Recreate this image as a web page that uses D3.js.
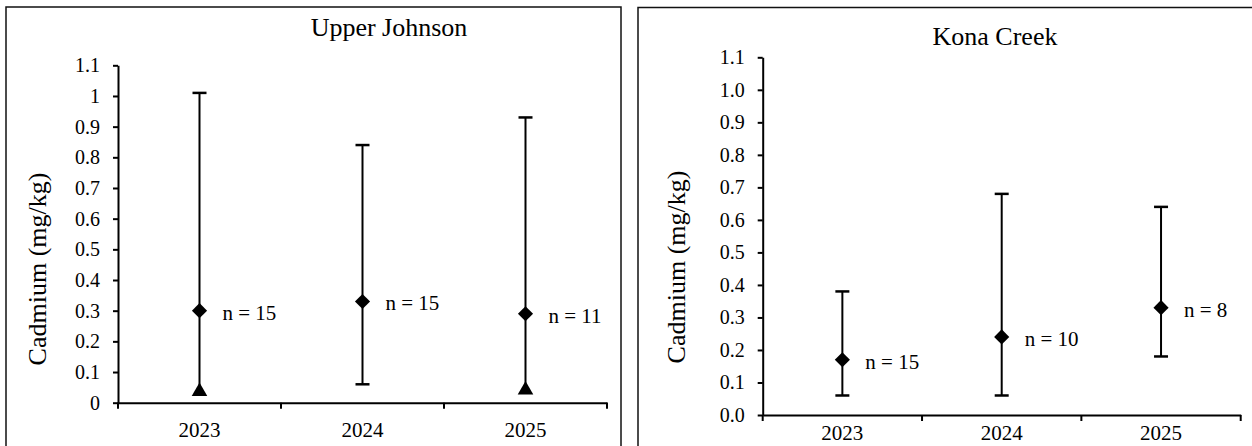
<!DOCTYPE html>
<html>
<head>
<meta charset="utf-8">
<script src="https://cdn.jsdelivr.net/npm/d3@7"></script>
<style>
  html, body { margin: 0; padding: 0; background: #fff; }
  svg { display: block; }
</style>
</head>
<body>
<svg id="chart" width="1252" height="446"></svg>
<script>
// Sampling years (categories)
const years = ["2023", "2024", "2025"];

// Upper Johnson: mean, max, min and sample counts
const ujMean = [0.30, 0.33, 0.29];
const ujMax  = [1.01, 0.84, 0.93];
const ujMin  = [0.04, 0.06, 0.045];
const ujMinIsTriangle = [true, false, true];
const ujN    = [15, 15, 11];

// Kona Creek: mean, max, min and sample counts
const kcMean = [0.17, 0.24, 0.33];
const kcMax  = [0.38, 0.68, 0.64];
const kcMin  = [0.06, 0.06, 0.18];
const kcMinIsTriangle = [false, false, false];
const kcN    = [15, 10, 8];

// Y tick values and their labels for each panel
const yTicks = [0, 0.1, 0.2, 0.3, 0.4, 0.5, 0.6, 0.7, 0.8, 0.9, 1.0, 1.1];
const ujTickLabels = ["0", "0.1", "0.2", "0.3", "0.4", "0.5", "0.6", "0.7", "0.8", "0.9", "1", "1.1"];
const kcTickLabels = ["0.0", "0.1", "0.2", "0.3", "0.4", "0.5", "0.6", "0.7", "0.8", "0.9", "1.0", "1.1"];

const FONT = "'Liberation Serif', 'Times New Roman', Tinos, 'DejaVu Serif', serif";

const svg = d3.select("#chart");

function drawPanel(p) {
  const g = svg.append("g").attr("font-family", FONT);

  // panel frame
  g.append("rect")
    .attr("x", p.frame[0]).attr("y", p.frame[1])
    .attr("width", p.frame[2]).attr("height", p.frame[3])
    .attr("fill", "none").attr("stroke", "#111").attr("stroke-width", 1.5);

  const x = d3.scaleBand().domain(years).range([p.x0, p.x1]).padding(0);
  const y = d3.scaleLinear().domain([0, 1.1]).range([p.y0, p.y1]);

  // y axis
  const yAxis = d3.axisLeft(y)
    .tickValues(yTicks)
    .tickFormat((d, i) => p.tickLabels[i])
    .tickSize(5).tickSizeOuter(0).tickPadding(p.yPad);
  const ya = g.append("g").attr("transform", `translate(${p.x0},0)`).call(yAxis)
    .attr("font-family", FONT);
  ya.select(".domain").attr("stroke", "#000").attr("stroke-width", 2);
  ya.selectAll(".tick line").attr("stroke", "#000").attr("stroke-width", 2);
  ya.selectAll(".tick text")
    .style("font-family", FONT).style("font-size", p.yFont + "px").attr("fill", "#000");

  // x axis: line with ticks between categories, labels centred on categories
  const xAxis = d3.axisBottom(x).tickSize(0).tickPadding(p.xPad);
  const xa = g.append("g").attr("transform", `translate(0,${p.y0})`).call(xAxis)
    .attr("font-family", FONT);
  xa.select(".domain").attr("stroke", "#000").attr("stroke-width", 2);
  xa.selectAll(".tick text")
    .style("font-family", FONT).style("font-size", "21px").attr("fill", "#000");
  const bounds = years.map(d => x(d)).concat([x.range()[1]]);
  g.selectAll(".xbound").data(bounds).join("line")
    .attr("x1", d => d).attr("x2", d => d)
    .attr("y1", p.y0).attr("y2", p.y0 + 6)
    .attr("stroke", "#000").attr("stroke-width", 2);

  const rows = years.map((yr, i) => ({
    yr, mean: p.mean[i], max: p.max[i], min: p.min[i], tri: p.tri[i], n: p.n[i],
    cx: x(yr) + x.bandwidth() / 2
  }));

  // whiskers
  g.selectAll(".whisker").data(rows).join("line")
    .attr("x1", d => d.cx).attr("x2", d => d.cx)
    .attr("y1", d => y(d.max)).attr("y2", d => y(d.min))
    .attr("stroke", "#000").attr("stroke-width", 2);

  // top caps
  g.selectAll(".capTop").data(rows).join("line")
    .attr("x1", d => d.cx - 7).attr("x2", d => d.cx + 7)
    .attr("y1", d => y(d.max)).attr("y2", d => y(d.max))
    .attr("stroke", "#000").attr("stroke-width", 2.5);

  // bottom caps or triangle markers
  g.selectAll(".capBot").data(rows.filter(d => !d.tri)).join("line")
    .attr("x1", d => d.cx - 7).attr("x2", d => d.cx + 7)
    .attr("y1", d => y(d.min)).attr("y2", d => y(d.min))
    .attr("stroke", "#000").attr("stroke-width", 2.5);
  g.selectAll(".tri").data(rows.filter(d => d.tri)).join("path")
    .attr("d", d3.symbol().type(d3.symbolTriangle).size(105))
    .attr("transform", d => `translate(${d.cx},${y(d.min) + 1})`)
    .attr("fill", "#000");

  // mean diamonds
  g.selectAll(".mean").data(rows).join("path")
    .attr("d", d3.symbol().type(d3.symbolSquare).size(115))
    .attr("transform", d => `translate(${d.cx},${y(d.mean)}) rotate(45)`)
    .attr("fill", "#000");

  // sample counts
  g.selectAll(".nlab").data(rows).join("text")
    .attr("x", d => d.cx + 23).attr("y", d => y(d.mean) + 9)
    .style("font-family", FONT).style("font-size", "21px")
    .text(d => `n = ${d.n}`);

  // title
  g.append("text")
    .attr("x", p.titleX).attr("y", p.titleY)
    .attr("text-anchor", "middle")
    .style("font-family", FONT).style("font-size", "26px")
    .text(p.title);

  // y axis title
  g.append("text")
    .attr("transform", `translate(${p.ylabX},${p.ylabY}) rotate(-90)`)
    .attr("text-anchor", "middle")
    .style("font-family", FONT).style("font-size", "26px")
    .text("Cadmium (mg/kg)");
}

drawPanel({
  frame: [6, 7, 615, 460],
  x0: 118, x1: 607, y0: 402.7, y1: 65.3,
  tickLabels: ujTickLabels, yPad: 13, yFont: 20, xPad: 19,
  mean: ujMean, max: ujMax, min: ujMin, tri: ujMinIsTriangle, n: ujN,
  title: "Upper Johnson", titleX: 389, titleY: 36,
  ylabX: 46, ylabY: 269
});

drawPanel({
  frame: [638, 7.5, 640, 460],
  x0: 762.7, x1: 1240.7, y0: 415, y1: 57.3,
  tickLabels: kcTickLabels, yPad: 13, yFont: 20, xPad: 10,
  mean: kcMean, max: kcMax, min: kcMin, tri: kcMinIsTriangle, n: kcN,
  title: "Kona Creek", titleX: 995, titleY: 45,
  ylabX: 685, ylabY: 267
});
</script>
</body>
</html>
